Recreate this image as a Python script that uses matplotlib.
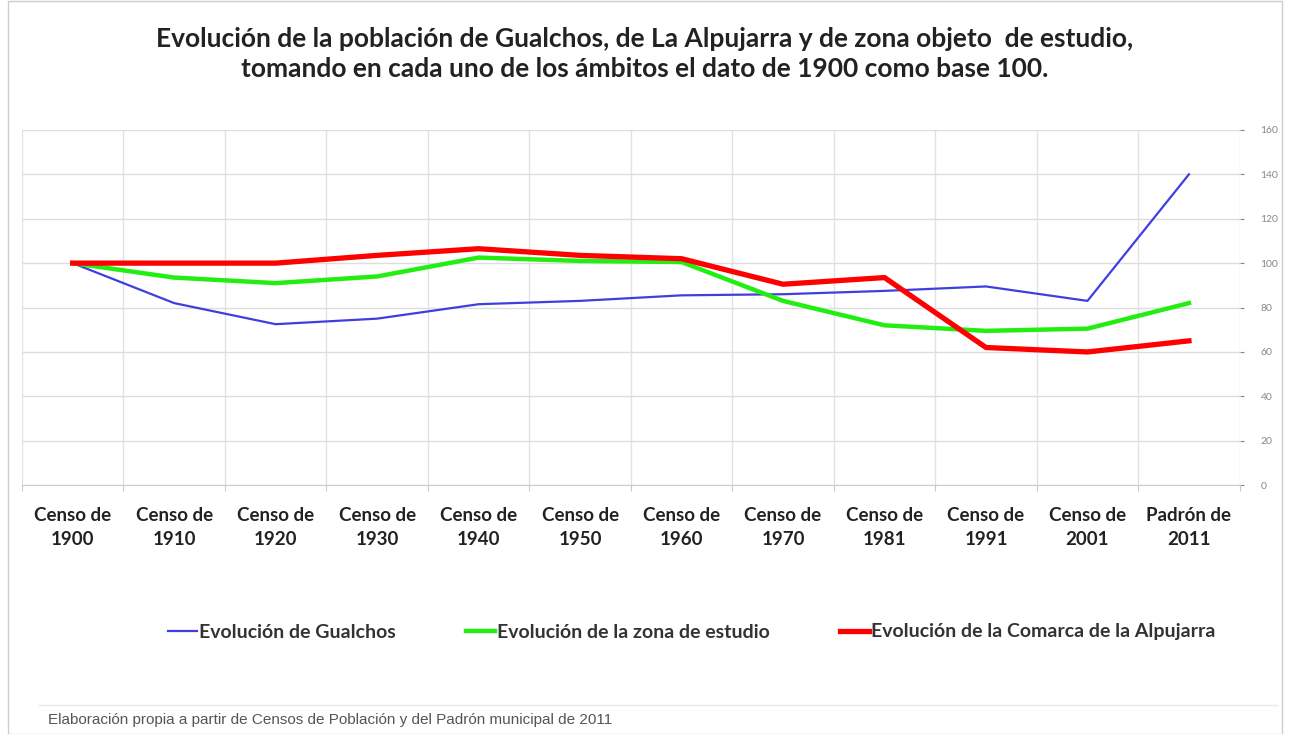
import matplotlib.pyplot as plt
from matplotlib.patches import Rectangle

# Data (base 1900 = 100)
categories = ['Censo de\n1900', 'Censo de\n1910', 'Censo de\n1920', 'Censo de\n1930',
              'Censo de\n1940', 'Censo de\n1950', 'Censo de\n1960', 'Censo de\n1970',
              'Censo de\n1981', 'Censo de\n1991', 'Censo de\n2001', 'Padrón de\n2011']
gualchos = [100, 82, 72.5, 75, 81.5, 83, 85.5, 86, 87.5, 89.5, 83, 140]
zona_estudio = [100, 93.5, 91, 94, 102.5, 101, 100.5, 83, 72, 69.5, 70.5, 82]
comarca = [100, 100, 100, 103.5, 106.5, 103.5, 102, 90.5, 93.5, 62, 60, 65]
y_ticks = [0, 20, 40, 60, 80, 100, 120, 140, 160]

plt.rcParams['font.family'] = ['Lato', 'DejaVu Sans']

fig = plt.figure(figsize=(12.9, 7.34), dpi=100)
ax = fig.add_axes([0.017, 0.339, 0.944, 0.484])

x = list(range(len(categories)))
ax.plot(x, gualchos, color='#3f3fe0', lw=1.6, label='Evolución de Gualchos', zorder=3)
ax.plot(x, zona_estudio, color='#22ee11', lw=3.2, label='Evolución de la zona de estudio', zorder=4)
ax.plot(x, comarca, color='#ff0000', lw=3.8, label='Evolución de la Comarca de la Alpujarra', zorder=5)

ax.set_xlim(-0.5, len(categories) - 0.5)
ax.set_ylim(0, 160)
ax.set_yticks(y_ticks)
ax.yaxis.tick_right()
ax.tick_params(axis='y', labelsize=7.5, colors='#888888', length=3, pad=12)
ax.set_xticks(x)
ax.set_xticklabels(categories, fontsize=13.5, fontweight='bold', color='#222222', linespacing=1.45)
ax.tick_params(axis='x', length=0, pad=16)
ax.set_xticks([i + 0.5 for i in range(-1, len(categories))], minor=True)
ax.tick_params(axis='x', which='minor', length=4, color='#bbbbbb')

ax.grid(axis='y', color='#dddddd', lw=1)
ax.grid(axis='x', which='minor', color='#e2e2e2', lw=1)
for s in ['top', 'left', 'right']:
    ax.spines[s].set_visible(False)
ax.spines['bottom'].set_color('#cccccc')

fig.text(0.5, 1 - 54 / 734, 'Evolución de la población de Gualchos, de La Alpujarra y de zona objeto  de estudio,\n'
         'tomando en cada uno de los ámbitos el dato de 1900 como base 100.',
         ha='center', va='center', fontsize=19, fontweight='bold', color='#222222', linespacing=1.3)

fig.legend(loc='center', bbox_to_anchor=(0.536, 1 - 632 / 734), ncol=3, frameon=False,
           handlelength=1.5, handletextpad=0.1, columnspacing=3.6,
           prop={'size': 14, 'weight': 'bold'}, labelcolor='#333333')

fig.text(0.037, 1 - 720 / 734, 'Elaboración propia a partir de Censos de Población y del Padrón municipal de 2011',
         fontsize=11, color='#555555', va='center', family=['Liberation Sans', 'DejaVu Sans'])

# light frame and separator like the scanned figure
fig.add_artist(Rectangle((0.006, 0.0), 0.988, 0.998, transform=fig.transFigure,
                         fill=False, edgecolor='#cccccc', lw=1))
fig.add_artist(plt.Line2D([0.03, 0.99], [1 - 705 / 734] * 2, transform=fig.transFigure,
                          color='#e8e8e8', lw=1))

fig.savefig('out.png', dpi=100)
